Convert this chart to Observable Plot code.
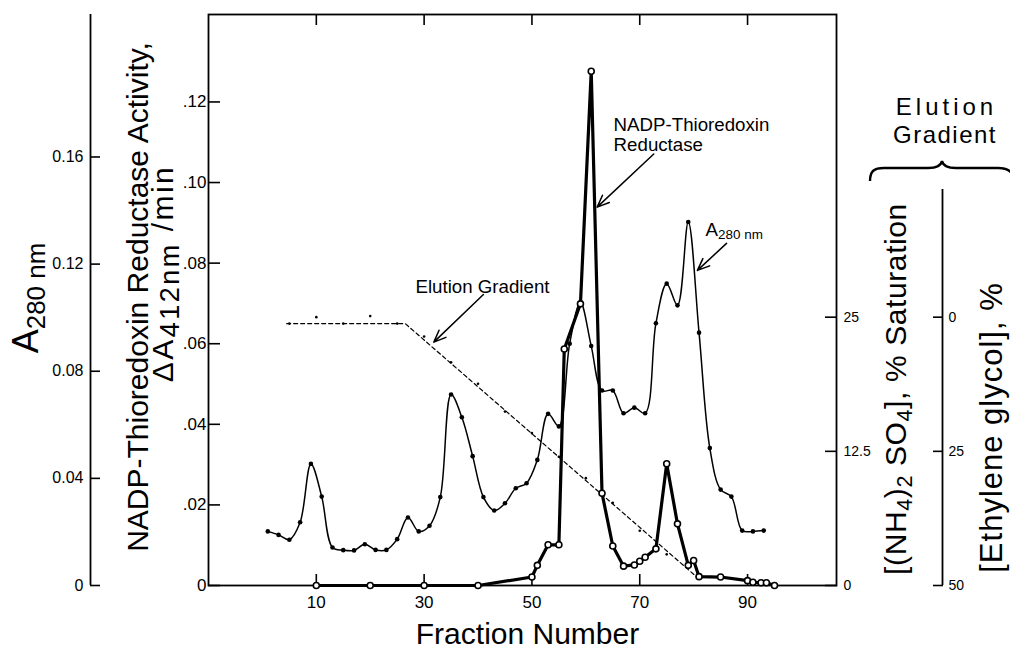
<!DOCTYPE html>
<html><head><meta charset="utf-8">
<script src="https://cdn.jsdelivr.net/npm/d3@7"></script>
<script src="https://cdn.jsdelivr.net/npm/@observablehq/plot@0.6"></script>
<style>
html,body{margin:0;padding:0;background:#fff;}
#chart{position:relative;width:1010px;height:648px;overflow:hidden;background:#fff;}
#chart svg{position:absolute;left:0;top:0;}
</style></head><body><div id="chart"></div>
<script>
// ---------- data ----------
const fractionTicks = [10, 30, 50, 70, 90];
const activityTicks = [0, 0.02, 0.04, 0.06, 0.08, 0.10, 0.12];
const a280Ticks = [0, 0.04, 0.08, 0.12, 0.16];
const saturationTicks = [0, 12.5, 25];
const glycolTicks = [0, 25, 50];

const a280Fractions = [1,3,5,7,9,11,13,15,17,19,21,23,25,27,29,31,33,35,37,39,41,43,45,47,49,51,53,55,57,59,61,63,65,67,69,71,73,75,77,79,81,83,85,87,89,91,93];
const a280Values = [0.0202,0.0189,0.0171,0.0236,0.0454,0.0332,0.0142,0.0132,0.0131,0.0154,0.0133,0.0133,0.0173,0.0254,0.0202,0.0223,0.0330,0.0713,0.0628,0.0483,0.0330,0.0280,0.0307,0.0363,0.0382,0.0469,0.0641,0.0594,0.0903,0.1057,0.0894,0.0728,0.0728,0.0643,0.0664,0.0643,0.0979,0.1127,0.1046,0.1357,0.0944,0.0513,0.0358,0.0332,0.0205,0.0202,0.0205];

const activityFractions = [10,20,30,40,50,51,53,55,56,59,61,63,65,67,69,70,71,73,75,77,79,80,81,85,90,91,92.5,93.5,95];
const activityValues = [0,0,0,0,0.0021,0.0050,0.0101,0.0101,0.0587,0.0699,0.1276,0.0229,0.0098,0.0048,0.0051,0.0060,0.0070,0.0091,0.0302,0.0153,0.0050,0.0062,0.0022,0.0021,0.0012,0.0008,0.0007,0.0007,0];

const gradientFractions = [5,10,15,20,25,30,35,40,45,50,55,60,65,70,75];
const gradientValues = [24.4,25.0,24.4,25.1,24.4,23.2,20.8,18.8,16.2,14.2,12.0,10.0,7.7,5.1,2.9];
const gradientLineFractions = [4.5, 26.5, 80.8];
const gradientLineValues = [24.4, 24.4, 0.7];

const labelA280 = "A_{280 nm}";
const labelActivity1 = "NADP-Thioredoxin Reductase Activity,";
const labelActivity2 = "ΔA_{412nm} /min";
const labelFraction = "Fraction Number";
const labelSaturation = "[(NH_{4})_{2} SO_{4}], % Saturation";
const labelGlycol = "[Ethylene glycol], %";
const labelGradientHead1 = "Elution";
const labelGradientHead2 = "Gradient";

// annotations (data units: fraction, activity)
const noteTexts = ["Elution Gradient", "NADP-Thioredoxin", "Reductase", "A_{280 nm}"];
const noteX = [28.4, 65.15, 65.15, 82.2];
const noteY = [0.0727, 0.1127, 0.1079, 0.0868];
const arrowX1 = [41.0, 72.6, 86.1];
const arrowY1 = [0.0722, 0.1071, 0.0849];
const arrowX2 = [31.8, 62.1, 80.7];
const arrowY2 = [0.0604, 0.0939, 0.0782];

// ---------- layout ----------
const W = 1010, H = 648;
const M = {top: 14, bottom: 63, left: 208, right: 174};
const X_DOMAIN = [-10, 106.5];
const ACT_TOP = 0.1417, A280_TOP = 0.2132, SAT_TOP = 53.2;
const GLY_DOMAIN = [50, 50 - 2 * SAT_TOP];
const GLY_AXIS_TOP = -23.8;
const FONT = "'Liberation Sans', Arial, sans-serif";
const style = {background: "transparent", fontFamily: FONT, color: "black", overflow: "visible"};
const base = (o) => Object.assign({width: W, height: H, marginTop: M.top, marginBottom: M.bottom, marginLeft: M.left, marginRight: M.right, style}, o);

const a280 = a280Fractions.map((f, i) => ({f, v: a280Values[i]}));
const activity = activityFractions.map((f, i) => ({f, v: activityValues[i]}));
const gradDots = gradientFractions.map((f, i) => ({f, v: gradientValues[i]}));
const gradLine = gradientLineFractions.map((f, i) => ({f, v: gradientLineValues[i]}));
const notes = noteTexts.map((t, i) => ({t, x: noteX[i], y: noteY[i]}));
const arrows = arrowX1.map((x1, i) => ({x1, y1: arrowY1[i], x2: arrowX2[i], y2: arrowY2[i]}));

const pA280Axis = Plot.plot(base({
  marginLeft: 90,
  x: {domain: [0, 1], axis: null},
  y: {domain: [0, A280_TOP], axis: null},
  marks: [
    Plot.ruleX([{x: 0, y1: 0, y2: A280_TOP}], {x: "x", y1: "y1", y2: "y2", stroke: "black", strokeWidth: 1.8}),
    Plot.axisY(a280Ticks, {anchor: "left", label: null, tickSize: -10, tickPadding: 17, fontSize: 16, strokeWidth: 1.6,
      tickFormat: d => d === 0 ? "0" : d.toFixed(2)}),
    Plot.text([labelA280], {frameAnchor: "left", textAnchor: "middle", rotate: -90, dx: -64.5, dy: -2, fontSize: 36})
  ]
}));

const pA280 = Plot.plot(base({
  x: {domain: X_DOMAIN, axis: null},
  y: {domain: [0, A280_TOP], axis: null},
  marks: [
    Plot.line(a280, {x: "f", y: "v", curve: "catmull-rom", stroke: "black", strokeWidth: 1.5}),
    Plot.dot(a280, {x: "f", y: "v", r: 2.3, fill: "black"})
  ]
}));

const pSat = Plot.plot(base({
  x: {domain: X_DOMAIN, axis: null},
  y: {domain: [0, SAT_TOP], axis: null},
  marks: [
    Plot.line(gradLine, {x: "f", y: "v", stroke: "black", strokeWidth: 1.2, strokeDasharray: "4,3"}),
    Plot.dot(gradDots, {x: "f", y: "v", r: 1.3, fill: "black"}),
    Plot.axisY(saturationTicks, {anchor: "right", label: null, tickSize: -12, tickPadding: 19, fontSize: 14, strokeWidth: 1.6,
      tickFormat: d => String(d)}),
    Plot.text([labelSaturation], {frameAnchor: "right", textAnchor: "middle", rotate: -90, dx: 59.4, dy: 89, fontSize: 30})
  ]
}));

const pGly = Plot.plot(base({
  marginRight: 68,
  x: {domain: [0, 1], axis: null},
  y: {domain: GLY_DOMAIN, axis: null},
  marks: [
    Plot.ruleX([{x: 1, y1: 50, y2: GLY_AXIS_TOP}], {x: "x", y1: "y1", y2: "y2", stroke: "black", strokeWidth: 1.8}),
    Plot.axisY(glycolTicks, {anchor: "right", label: null, tickSize: -10, tickPadding: 16, fontSize: 14, strokeWidth: 1.6,
      tickFormat: d => String(d)}),
    Plot.text([labelGlycol], {frameAnchor: "right", textAnchor: "middle", rotate: -90, dx: 50, dy: 127.5, fontSize: 31}),
    Plot.text([labelGradientHead1], {frameAnchor: "top-right", textAnchor: "middle", dx: 4, dy: 100, lineAnchor: "bottom", fontSize: 24}),
    Plot.text([labelGradientHead2], {frameAnchor: "top-right", textAnchor: "middle", dx: 2.5, dy: 128, lineAnchor: "bottom", fontSize: 24})
  ]
}));

const pMain = Plot.plot(base({
  x: {domain: X_DOMAIN, axis: null},
  y: {domain: [0, ACT_TOP], axis: null},
  marks: [
    Plot.frame({stroke: "black", strokeWidth: 1.8}),
    Plot.axisX(fractionTicks, {anchor: "bottom", label: null, tickSize: -11, tickPadding: 21, fontSize: 17, strokeWidth: 1.6}),
    Plot.axisX(fractionTicks, {anchor: "top", label: null, tickSize: -10, tickFormat: () => "", strokeWidth: 1.6}),
    Plot.axisY(activityTicks, {anchor: "left", label: null, tickSize: -12, tickPadding: 14, fontSize: 17, strokeWidth: 1.6,
      tickFormat: d => d === 0 ? "0" : d.toFixed(2).slice(1)}),
    Plot.line(activity, {x: "f", y: "v", stroke: "black", strokeWidth: 3.2, strokeLinejoin: "round"}),
    Plot.dot(activity, {x: "f", y: "v", r: 3, fill: "white", stroke: "black", strokeWidth: 1.6}),
    Plot.arrow(arrows, {x1: "x1", y1: "y1", x2: "x2", y2: "y2", stroke: "black", strokeWidth: 1.5, headLength: 13, headAngle: 45}),
    Plot.text(notes, {x: "x", y: "y", text: "t", textAnchor: "start", lineAnchor: "bottom", fontSize: 18.7}),
    Plot.text([labelFraction], {frameAnchor: "bottom", textAnchor: "middle", dx: 5, dy: 58, lineAnchor: "bottom", fontSize: 30}),
    Plot.text([labelActivity1], {frameAnchor: "left", textAnchor: "middle", rotate: -90, dx: -70.6, dy: -3, fontSize: 30}),
    Plot.text([labelActivity2], {frameAnchor: "left", textAnchor: "middle", rotate: -90, dx: -45.6, dy: -26.5, fontSize: 30})
  ]
}));

// letter spacing per label (px)
const spacing = new Map([
  [labelActivity2, 2.5], [labelSaturation, 0.6], [labelGlycol, 1], [labelGradientHead1, 4], [labelGradientHead2, 1.5]
]);

// subscripts written as _{...}
function finishTexts(root) {
  root.querySelectorAll("text").forEach(t => {
    const s = t.textContent;
    if (spacing.has(s)) t.style.letterSpacing = spacing.get(s) + "px";
    if (!s.includes("_{")) return;
    const parts = s.split(/(_\{[^}]*\})/).filter(p => p.length);
    while (t.firstChild) t.removeChild(t.firstChild);
    const ratio = s === labelActivity2 ? 0.9 : 0.72, shift = 0.2;
    let shifted = false;
    for (const p of parts) {
      const ts = document.createElementNS("http://www.w3.org/2000/svg", "tspan");
      if (p.startsWith("_{")) {
        ts.textContent = p.slice(2, -1);
        ts.setAttribute("font-size", ratio + "em");
        if (!shifted) ts.setAttribute("dy", (shift / ratio).toFixed(3) + "em");
        shifted = true;
      } else {
        ts.textContent = p;
        if (shifted) ts.setAttribute("dy", (-shift).toFixed(3) + "em");
        shifted = false;
      }
      t.appendChild(ts);
    }
  });
}

const chart = document.getElementById("chart");
for (const p of [pA280Axis, pA280, pSat, pGly, pMain]) { finishTexts(p); chart.appendChild(p); }

// brace above the two gradient axes
const gSvg = d3.select(pGly);
const cx = W - 68, by = 168;
gSvg.append("path")
  .attr("d", `M${cx-72},${by+13} C${cx-72},${by+3} ${cx-68},${by} ${cx-58},${by} L${cx-14},${by} C${cx-5},${by} ${cx-1},${by-2} ${cx},${by-7} C${cx+1},${by-2} ${cx+5},${by} ${cx+14},${by} L${cx+56},${by} C${cx+64},${by} ${cx+68},${by+2} ${cx+70},${by+6}`)
  .attr("fill", "none").attr("stroke", "black").attr("stroke-width", 2.4);
</script></body></html>
